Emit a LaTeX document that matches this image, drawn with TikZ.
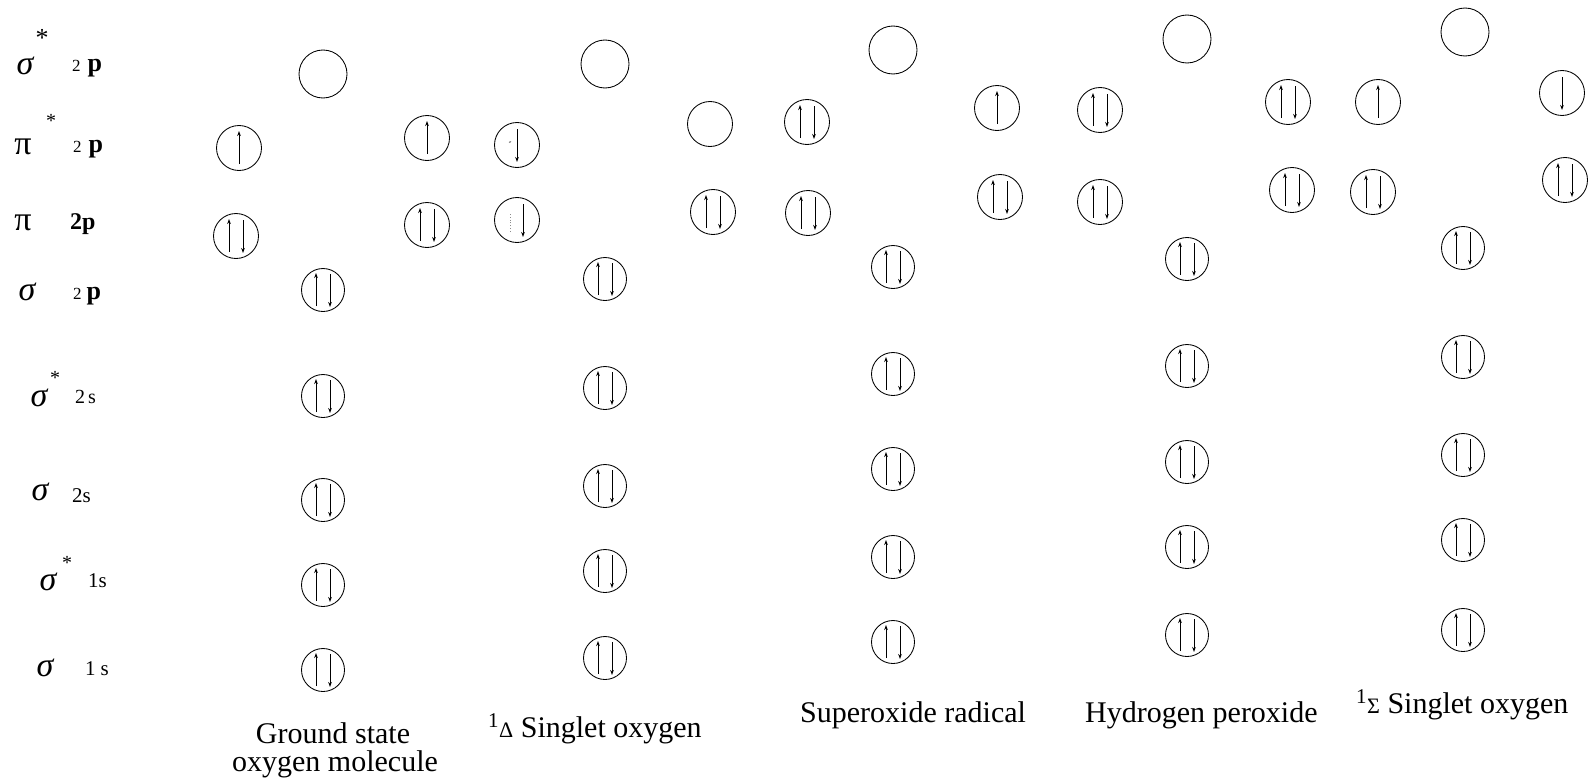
\documentclass[tikz,border=0pt]{standalone}
\usepackage{fontspec}
\setmainfont{Liberation Serif}
\usetikzlibrary{arrows.meta}

\tikzset{
  orb/.style={draw, circle, line width=0.85pt, minimum size=45pt, inner sep=0pt},
  orbbig/.style={orb, minimum size=48pt},
  orbsm/.style={orb, minimum size=43pt},
  spin/.style={line width=0.85pt, -{Stealth[length=5pt,width=3.6pt]}},
  ghost/.style={line width=0.9pt, draw=black!45, dotted},
  caption/.style={font=\fontsize{30}{34}\selectfont, inner sep=0pt, anchor=base west},
  greek/.style={font=\fontsize{34}{36}\selectfont, inner sep=0pt},
  star/.style={font=\fontsize{26}{28}\selectfont, inner sep=0pt, anchor=base},
  level/.style={inner sep=0pt, anchor=base west},
}

% spin arrows inside an orbital circle
\newcommand\spinup[1]{\draw[spin] ([yshift=-16pt]#1.center) -- ([yshift=17pt]#1.center);}
\newcommand\spindn[1]{\draw[spin] ([yshift=16pt]#1.center) -- ([yshift=-17pt]#1.center);}
\newcommand\spinpair[1]{%
  \draw[spin] ([xshift=-7pt,yshift=-16pt]#1.center) -- ([xshift=-7pt,yshift=17pt]#1.center);
  \draw[spin] ([xshift=7pt,yshift=16pt]#1.center) -- ([xshift=7pt,yshift=-17pt]#1.center);}
% paired orbital whose up electron is printed faintly
\newcommand\spinfaded[1]{%
  \draw[ghost] ([xshift=-7pt,yshift=-12pt]#1.center) -- ([xshift=-7pt,yshift=8pt]#1.center);
  \draw[spin] ([xshift=6pt,yshift=16pt]#1.center) -- ([xshift=6pt,yshift=-17pt]#1.center);}

% the five filled sigma levels (sigma 2p, sigma* 2s, sigma 2s, sigma* 1s, sigma 1s)
\newcommand\sigmastack[7]{%
  \node[orbsm] (#1s2p)  at (#2,#3) {}; \spinpair{#1s2p}
  \node[orbsm] (#1ss2s) at (#2,#4) {}; \spinpair{#1ss2s}
  \node[orbsm] (#1s2s)  at (#2,#5) {}; \spinpair{#1s2s}
  \node[orbsm] (#1ss1s) at (#2,#6) {}; \spinpair{#1ss1s}
  \node[orbsm] (#1s1s)  at (#2,#7) {}; \spinpair{#1s1s}}

% small term symbol in front of a caption
\newcommand\term[1]{\textsuperscript{1}{\fontsize{22}{22}\selectfont #1}}

\begin{document}
\begin{tikzpicture}[x=1pt, y=-1pt]
\useasboundingbox (0,0) rectangle (1593,784);

% ---- level names on the left ----
\node[greek] (g1) at (25,66)  {\itshape σ};
\node[star]  (st1) at (42,47) {*};
\node[level] (l1) at (72,72)  {{\fontsize{17}{17}\selectfont 2}\hspace{7pt}{\fontsize{26}{26}\selectfont\bfseries p}};

\node[greek] (g2) at (23,147) {π};
\node[star]  (st2) at (51,127) {\fontsize{20}{20}\selectfont *};
\node[level] (l2) at (73,152) {{\fontsize{17}{17}\selectfont 2}\hspace{7pt}{\fontsize{26}{26}\selectfont\bfseries p}};

\node[greek] (g3) at (23,223) {π};
\node[level] (l3) at (70,229) {\fontsize{24}{24}\selectfont\bfseries 2p};

\node[greek] (g4) at (27,292) {\itshape σ};
\node[level] (l4) at (73,299) {{\fontsize{17}{17}\selectfont 2}\hspace{5pt}{\fontsize{26}{26}\selectfont\bfseries p}};

\node[greek] (g5) at (39,398) {\itshape σ};
\node[star]  (st5) at (55,384) {\fontsize{20}{20}\selectfont *};
\node[level] (l5) at (75,403) {\fontsize{20}{20}\selectfont 2\hspace{3pt}s};

\node[greek] (g6) at (40,492) {\itshape σ};
\node[level] (l6) at (72,502) {\fontsize{21}{21}\selectfont 2s};

\node[greek] (g7) at (48,582) {\itshape σ};
\node[star]  (st7) at (67,569) {\fontsize{20}{20}\selectfont *};
\node[level] (l7) at (88,587) {\fontsize{21}{21}\selectfont 1s};

\node[greek] (g8) at (45,668) {\itshape σ};
\node[level] (l8) at (85,675) {\fontsize{21}{21}\selectfont 1\hspace{5pt}s};

% ---- ground state oxygen molecule ----
\node[orbbig] (Gsp) at (323,74) {};
\node[orb] (Gpsl) at (239,148) {}; \spinup{Gpsl}
\node[orb] (Gpsr) at (427,138) {}; \spinup{Gpsr}
\node[orb] (Gpl)  at (236,236) {}; \spinpair{Gpl}
\node[orb] (Gpr)  at (427,225) {}; \spinpair{Gpr}
\sigmastack{G}{323}{290}{396}{500}{585}{670}

% ---- singlet (Delta) oxygen ----
\node[orbbig] (Dsp) at (605,64) {};
\node[orb] (Dpsl) at (517,145) {}; \spindn{Dpsl}
\node[ghost, circle, fill=black!45, inner sep=0.7pt] (Ddot) at (510,142) {};
\node[orb] (Dpsr) at (710,124) {};
\node[orb] (Dpl)  at (517,220) {}; \spinfaded{Dpl}
\node[orb] (Dpr)  at (713,212) {}; \spinpair{Dpr}
\sigmastack{D}{605}{279}{388}{486}{571}{658}

% ---- superoxide radical ----
\node[orbbig] (Ssp) at (893,50) {};
\node[orb] (Spsl) at (807,122) {}; \spinpair{Spsl}
\node[orb] (Spsr) at (997,108) {}; \spinup{Spsr}
\node[orb] (Spl)  at (808,213) {}; \spinpair{Spl}
\node[orb] (Spr)  at (1000,197) {}; \spinpair{Spr}
\sigmastack{S}{893}{267}{374}{469}{557}{642}

% ---- hydrogen peroxide ----
\node[orbbig] (Hsp) at (1187,39) {};
\node[orb] (Hpsl) at (1100,110) {}; \spinpair{Hpsl}
\node[orb] (Hpsr) at (1288,102) {}; \spinpair{Hpsr}
\node[orb] (Hpl)  at (1100,202) {}; \spinpair{Hpl}
\node[orb] (Hpr)  at (1292,190) {}; \spinpair{Hpr}
\sigmastack{H}{1187}{259}{366}{462}{547}{635}

% ---- singlet (Sigma) oxygen ----
\node[orbbig] (Xsp) at (1465,32) {};
\node[orb] (Xpsl) at (1378,102) {}; \spinup{Xpsl}
\node[orb] (Xpsr) at (1562,93) {}; \spindn{Xpsr}
\node[orb] (Xpl)  at (1373,192) {}; \spinpair{Xpl}
\node[orb] (Xpr)  at (1565,180) {}; \spinpair{Xpr}
\sigmastack{X}{1463}{248}{357}{455}{540}{630}

% ---- species names ----
\node[caption, anchor=base] (cG1) at (333,743) {Ground state};
\node[caption, anchor=base] (cG2) at (335,771) {oxygen molecule};
\node[caption] (cD) at (488,737) {\term{Δ} Singlet oxygen};
\node[caption] (cS) at (800,722) {Superoxide radical};
\node[caption] (cH) at (1085,722) {Hydrogen peroxide};
\node[caption] (cX) at (1356,713) {\term{Σ} Singlet oxygen};
\end{tikzpicture}
\end{document}
